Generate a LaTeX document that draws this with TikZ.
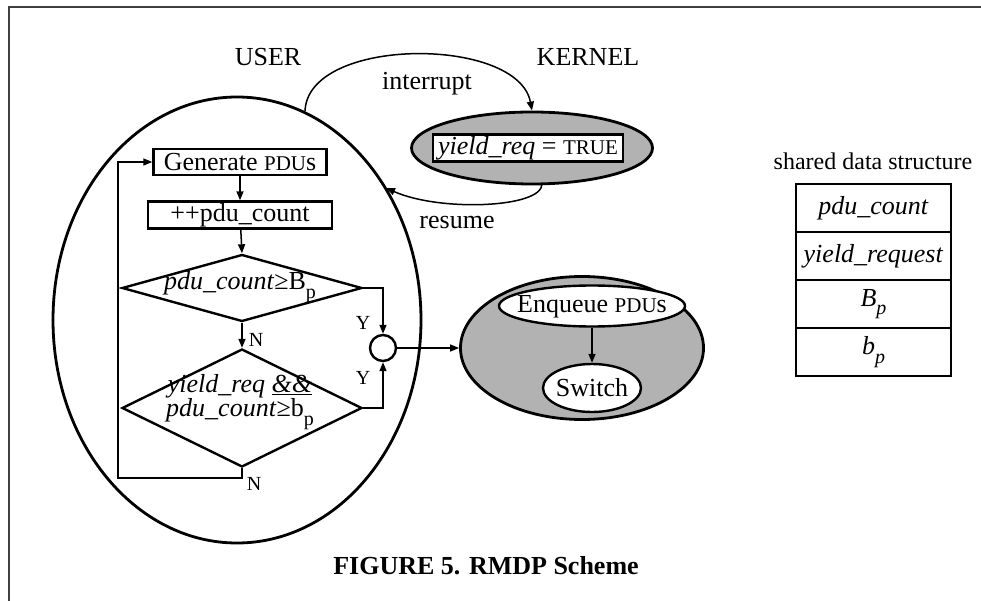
\documentclass[tikz,border=0pt]{standalone}
\usepackage{fontspec}
\setmainfont{Liberation Serif}
\usetikzlibrary{shapes.geometric,arrows.meta}

% smaller capitals and lowered subscripts in the running text
\newcommand\capsm[1]{{\fontsize{21}{24}\selectfont #1}}
\newcommand\lowsub[1]{\raisebox{-0.33em}{\fontsize{20}{20}\selectfont #1}}

\begin{document}
\begin{tikzpicture}[x=1pt,y=-1pt,
  every node/.style={font=\fontsize{26}{31}\selectfont, inner sep=0pt},
  arr/.style={-{Triangle[length=9pt,width=7pt]}, line width=1.5pt},
  procbox/.style={draw, line width=2.4pt, rectangle},
  decision/.style={draw, line width=2.4pt, diamond, minimum width=240pt, minimum height=67pt},
  bigoval/.style={draw, line width=2.8pt, ellipse},
  smalloval/.style={draw, line width=2.4pt, ellipse, fill=white},
  greyfill/.style={fill=black!30},
  tag/.style={font=\fontsize{20}{22}\selectfont},
  cell/.style={draw, line width=1.3pt, rectangle, minimum width=155pt, minimum height=48pt}]

\useasboundingbox (0,0) rectangle (981,601);

% page frame
\draw[line width=2pt, black!75] (9,601) -- (9,7) -- (981,7);

% headings
\node (user) at (268,57) {USER};
\node (kernel) at (588,57) {KERNEL};

% user space process
\node[bigoval, minimum width=368pt, minimum height=446pt] (proc) at (237,320) {};

% kernel side
\node[bigoval, greyfill, minimum width=241pt, minimum height=72pt] (kern) at (532,148) {};
\node[procbox, fill=white, minimum width=190pt, minimum height=27pt] (flag) at (528,148)
  {\textit{yield\_req} = \capsm{TRUE}};

% flowchart inside the process
\node[procbox, minimum width=173pt, minimum height=26pt] (gen) at (240,162)
  {Generate \capsm{PDU}s};
\node[procbox, minimum width=184pt, minimum height=27pt] (cnt) at (240,215)
  {++pdu\_count};
\node[decision] (d1) at (242,288) {};
\node (d1t) at (240,287) {\textit{pdu\_count}≥B\lowsub{p}};
\node[decision, minimum height=118pt] (d2) at (242,408) {};
\node[align=center, font=\fontsize{26}{21}\selectfont] (d2t) at (240,402)
  {\textit{yield\_req} \underline{\textit{\&\&}}\\\textit{pdu\_count}≥b\lowsub{p}};

\node[draw, circle, line width=2.4pt, minimum size=26pt] (join) at (383,348) {};

% yielding branch
\node[bigoval, greyfill, minimum width=243pt, minimum height=143pt] (yield) at (582,348) {};
\node[smalloval, minimum width=186pt, minimum height=41pt] (enq) at (592,306) {};
\node (enqt) at (592,307) {Enqueue \capsm{PDU}s};
\node[smalloval, minimum width=98pt, minimum height=48pt] (sw) at (592,388) {};
\node (swt) at (592,388) {Switch};

% flow connectors
\draw[arr] (gen) -- (cnt);
\draw[arr] (cnt) -- (d1.north);
\draw[arr] (d1.south) -- (d2.north);
\node[tag] (n1) at (256,340) {N};
\draw[arr] (d1.east) -| (join.north);
\node[tag] (y1) at (363,323) {Y};
\draw[arr] (d2.east) -| (join.south);
\node[tag] (y2) at (363,378) {Y};
\coordinate (loopcorner) at (118,478);
\draw[arr] (d2.south) |- (loopcorner) |- (gen.west);
\node[tag] (n2) at (254,484) {N};
\draw[arr] (join.east) -- (yield.west);
\draw[arr] (enq.south) -- (sw.north);

% interrupt / resume
\coordinate (intfrom) at (305,111);
\draw[arr] (intfrom) .. controls (308,36) and (518,36) .. (kern.north);
\node (inttxt) at (427,84) {interrupt};
\coordinate (resfrom) at (542,184);
\coordinate (resto) at (386,188);
\draw[arr] (resfrom) .. controls (542,208) and (440,212) .. (resto);
\node (restxt) at (457,223) {resume};

% shared data structure
\node[font=\fontsize{24}{28}\selectfont] (shtitle) at (873,161) {shared data structure};
\node[cell] (c1) at (873.5,208) {\textit{pdu\_count}};
\node[cell] (c2) at (873.5,256) {\textit{yield\_request}};
\node[cell] (c3) at (873.5,304) {\textit{B}\lowsub{\textit{p}}};
\node[cell] (c4) at (873.5,352) {\textit{b}\lowsub{\textit{p}}};

% caption
\node[font=\fontsize{26}{31}\selectfont\bfseries] (cap) at (486,566) {FIGURE 5. RMDP Scheme};
\end{tikzpicture}
\end{document}
